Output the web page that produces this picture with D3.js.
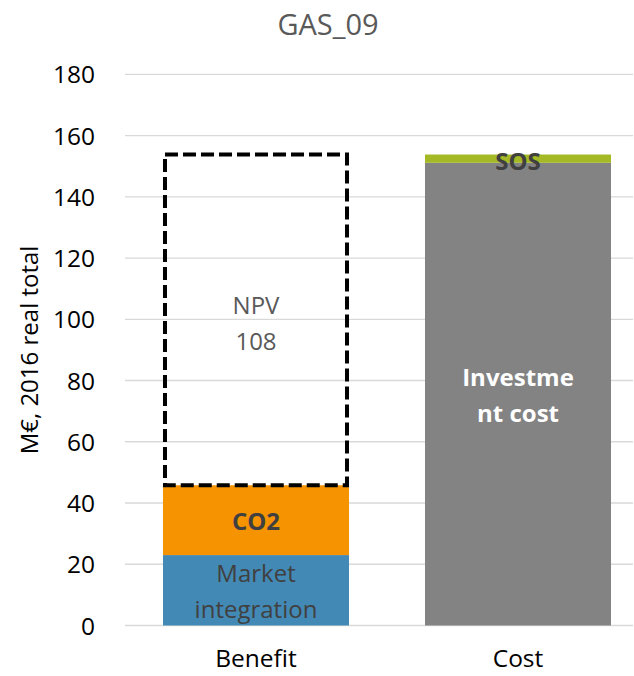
<!DOCTYPE html>
<html><head><meta charset="utf-8">
<script src="https://cdn.jsdelivr.net/npm/d3@7"></script>
<style>html,body{margin:0;padding:0;background:#fff;}svg{display:block;font-family:"Open Sans",sans-serif;}</style>
</head><body>
<svg id="chart" width="634" height="676"></svg>
<script>
const title = "GAS_09";
const yAxisTitle = "M€, 2016 real total";
const categories = ["Benefit", "Cost"];
const benefitSeries = ["Market integration", "CO2"];
const benefitValues = [23.0, 22.8];
const benefitLabels = [["Market", "integration"], ["CO2"]];
const npvValue = 108;
const npvLabel = ["NPV", "108"];
const costSeries = ["Investment cost", "SOS"];
const costValues = [151.1, 2.7];
const costLabels = [["Investme", "nt cost"], ["SOS"]];
const yTicks = [0, 20, 40, 60, 80, 100, 120, 140, 160, 180];

const colors = {"Market integration": "#4389B5", "CO2": "#F59300", "Investment cost": "#838383", "SOS": "#A5B825"};
const labelStyle = {
  "Market integration": {fill: "#404040", weight: 400},
  "CO2": {fill: "#404040", weight: 700},
  "Investment cost": {fill: "#ffffff", weight: 700},
  "SOS": {fill: "#404040", weight: 700}
};

const svg = d3.select("#chart");
const y = d3.scaleLinear().domain([0, 180]).range([625.5, 74.3]);
const x = d3.scaleBand().domain(categories).range([125, 649]).paddingInner(0.29).paddingOuter(0.145);

// gridlines
svg.append("g").selectAll("line").data(yTicks).join("line")
  .attr("x1", 125).attr("x2", 633)
  .attr("y1", d => y(d)).attr("y2", d => y(d))
  .attr("stroke", "#d9d9d9").attr("stroke-width", 1.3);

// y axis labels
const yAxis = d3.axisLeft(y).tickValues(yTicks).tickSize(0).tickPadding(0);
const ga = svg.append("g").attr("transform", "translate(95,0)").call(yAxis);
ga.select(".domain").remove();
ga.selectAll("text").attr("font-size", 24.5).attr("fill", "#000").attr("font-family", "Open Sans").attr("dy", "0.35em");

// x axis labels
const xAxis = d3.axisBottom(x).tickSize(0).tickPadding(0);
const gx = svg.append("g").attr("transform", "translate(0,650)").call(xAxis);
gx.select(".domain").remove();
gx.selectAll("text").attr("font-size", 24.5).attr("fill", "#000").attr("font-family", "Open Sans").attr("dy", "0.68em");

// stack helper
function segments(cat, names, vals) {
  let acc = 0;
  return names.map((n, i) => { const s = {cat, name: n, y0: acc, y1: acc + vals[i]}; acc += vals[i]; return s; });
}
const benefitSegs = segments("Benefit", benefitSeries, benefitValues);
const costSegs = segments("Cost", costSeries, costValues);
const allSegs = benefitSegs.concat(costSegs);

svg.append("g").selectAll("rect").data(allSegs).join("rect")
  .attr("x", d => x(d.cat)).attr("width", x.bandwidth())
  .attr("y", d => y(d.y1)).attr("height", d => y(d.y0) - y(d.y1))
  .attr("fill", d => colors[d.name]);

// NPV dashed box
const npvBase = d3.sum(benefitValues);
const bx = x("Benefit"), bw = x.bandwidth();
svg.append("rect")
  .attr("x", bx + 2).attr("width", bw - 4)
  .attr("y", y(npvBase + npvValue)).attr("height", y(npvBase) - y(npvBase + npvValue))
  .attr("fill", "none").attr("stroke", "#000").attr("stroke-width", 4)
  .attr("stroke-dasharray", "13,5");

// labels
function drawLabel(cx, cy, lines, style, spacing) {
  const n = lines.length;
  lines.forEach((t, i) => {
    svg.append("text")
      .attr("x", cx).attr("y", cy + (i - (n - 1) / 2) * spacing + 10)
      .attr("text-anchor", "middle").attr("font-size", 24)
      .attr("font-weight", style.weight).attr("fill", style.fill)
      .text(t);
  });
}
const labelMap = {};
benefitSeries.forEach((s, i) => labelMap[s] = benefitLabels[i]);
costSeries.forEach((s, i) => labelMap[s] = costLabels[i]);
allSegs.forEach(d => {
  let cy = y((d.y0 + d.y1) / 2);
  if (d.name === "SOS") cy = y(d.y1) + 5;
  drawLabel(x(d.cat) + x.bandwidth() / 2, cy, labelMap[d.name], labelStyle[d.name], 36);
});
drawLabel(bx + bw / 2, y(npvBase + npvValue / 2) + 2, npvLabel, {fill: "#595959", weight: 400}, 36);

// y axis title
svg.append("text")
  .attr("transform", "translate(38,350) rotate(-90)")
  .attr("text-anchor", "middle").attr("font-size", 24).attr("fill", "#000")
  .text(yAxisTitle);

// title
svg.append("text").attr("x", 328).attr("y", 35)
  .attr("text-anchor", "middle").attr("font-size", 29).attr("fill", "#595959")
  .text(title);
</script>
</body></html>
